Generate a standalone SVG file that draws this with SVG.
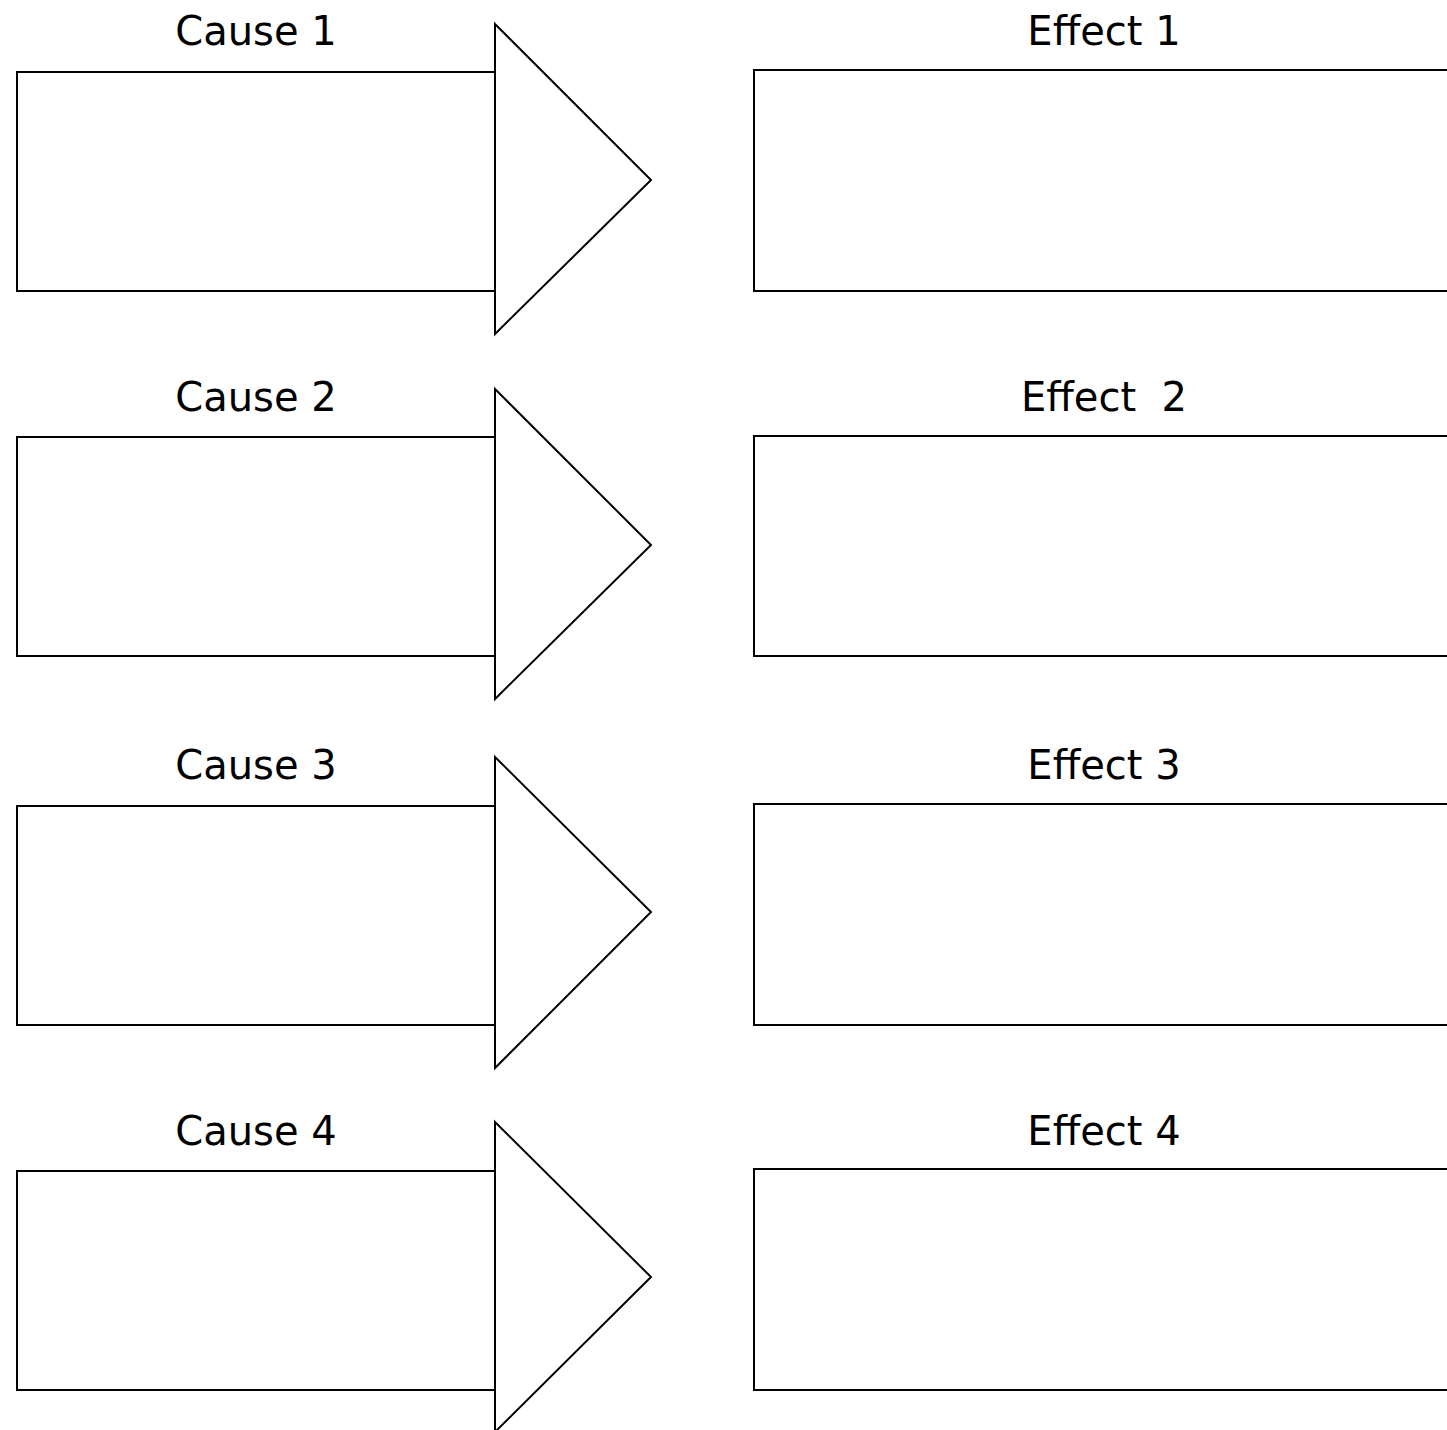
<svg xmlns="http://www.w3.org/2000/svg" width="1447" height="1430" viewBox="0 0 1447 1430">
<style>
.box{fill:#fff;stroke:#000;stroke-width:2}
.lbl{font-family:"DejaVu Sans",sans-serif;font-size:40px;fill:#000;text-anchor:middle;white-space:pre}
</style>
<rect width="1447" height="1430" fill="#fff"/>
<g id="cause1"><rect class="box" x="17" y="72" width="478" height="219"/><polygon class="box" points="495,24 651,180 495,334"/><text class="lbl" x="256" y="45">Cause 1</text></g>
<g id="cause2"><rect class="box" x="17" y="437" width="478" height="219"/><polygon class="box" points="495,389 651,545 495,699"/><text class="lbl" x="256" y="411">Cause 2</text></g>
<g id="cause3"><rect class="box" x="17" y="806" width="478" height="219"/><polygon class="box" points="495,757 651,912 495,1068"/><text class="lbl" x="256" y="779">Cause 3</text></g>
<g id="cause4"><rect class="box" x="17" y="1171" width="478" height="219"/><polygon class="box" points="495,1122 651,1277 495,1432"/><text class="lbl" x="256" y="1145">Cause 4</text></g>
<g id="effect1"><rect class="box" x="754" y="70" width="720" height="221"/><text class="lbl" x="1104" y="45">Effect 1</text></g>
<g id="effect2"><rect class="box" x="754" y="436" width="720" height="220"/><text class="lbl" x="1104" y="411">Effect  2</text></g>
<g id="effect3"><rect class="box" x="754" y="804" width="720" height="221"/><text class="lbl" x="1104" y="779">Effect 3</text></g>
<g id="effect4"><rect class="box" x="754" y="1169" width="720" height="221"/><text class="lbl" x="1104" y="1145">Effect 4</text></g>
<g id="connectors"/>
</svg>
